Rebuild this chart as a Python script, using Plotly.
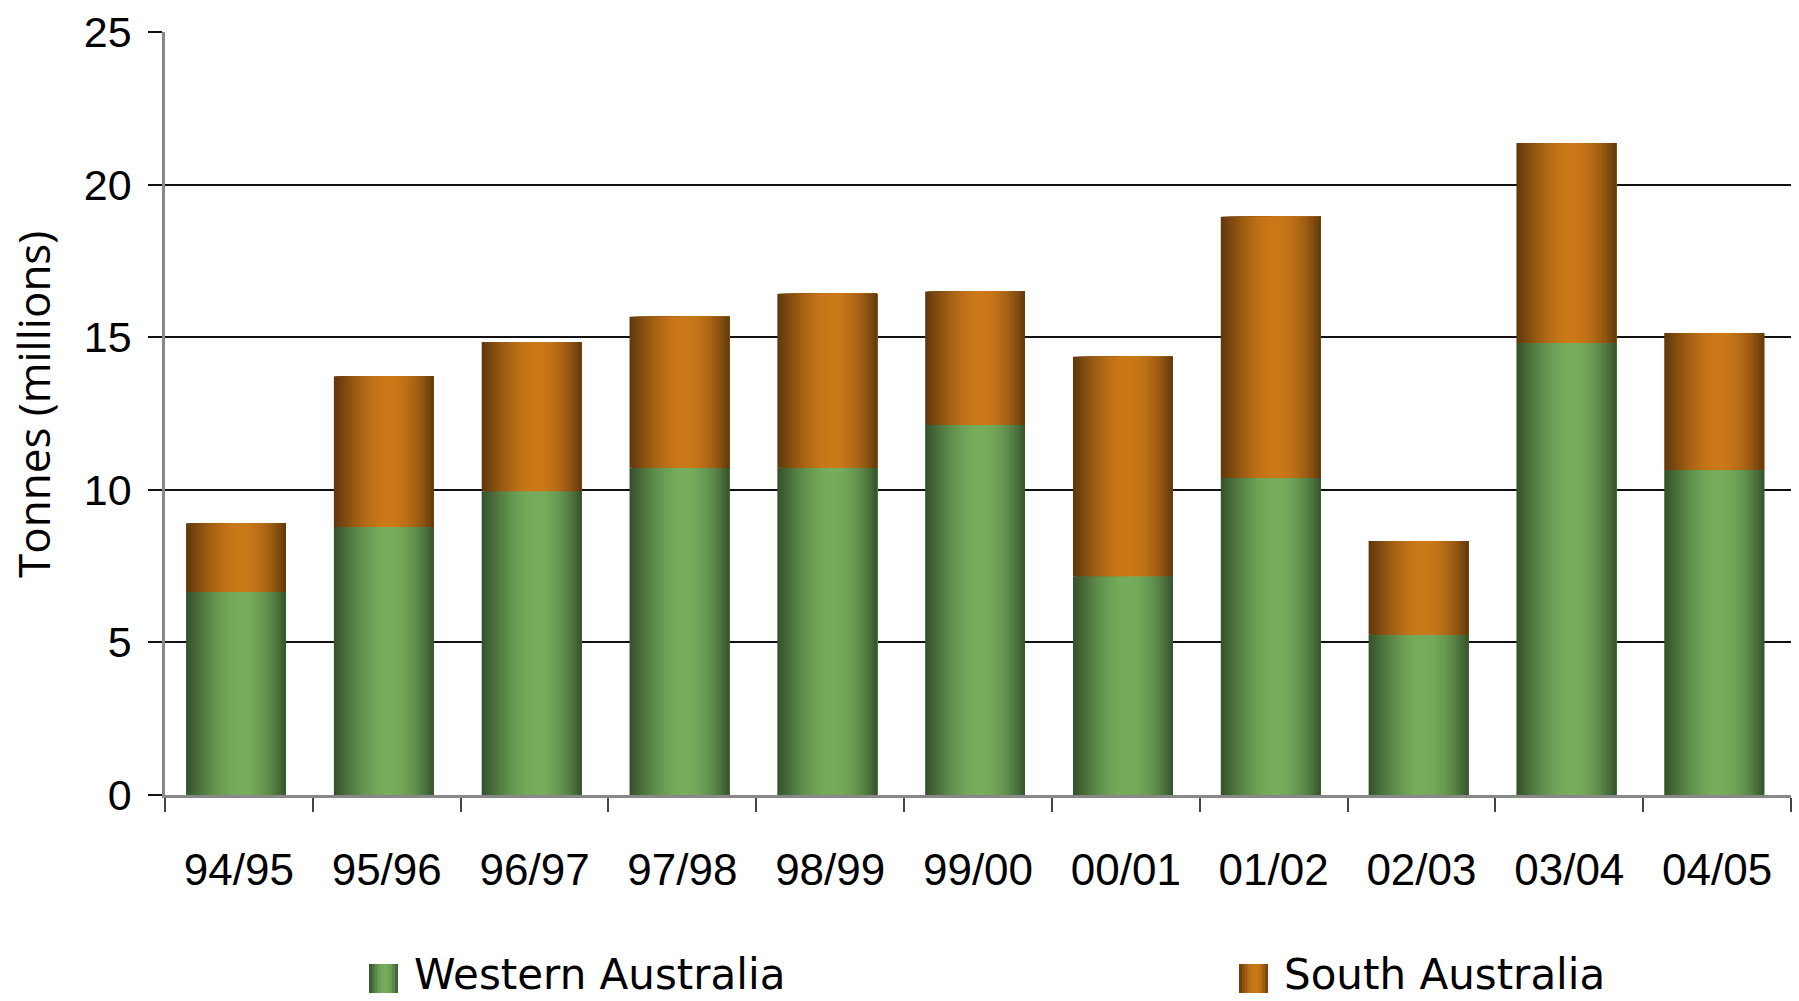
import math
import plotly.graph_objects as go

# Harvest season labels
seasons = ["94/95", "95/96", "96/97", "97/98", "98/99", "99/00",
           "00/01", "01/02", "02/03", "03/04", "04/05"]

# Tonnes (millions) per state, stacked: WA at the bottom, SA on top
western_australia = [6.65, 8.78, 9.95, 10.72, 10.72, 12.12, 7.17, 10.39, 5.25, 14.81, 10.65]
south_australia = [2.25, 4.94, 4.89, 4.95, 5.70, 4.38, 7.19, 8.56, 3.07, 6.55, 4.49]

y_ticks = [0, 5, 10, 15, 20, 25]

# Figure geometry (pixels)
W, H = 1799, 1001
M_L, M_R, M_T, M_B = 165, 8, 32, 206
PLOT_W = W - M_L - M_R
PLOT_H = H - M_T - M_B

BAR_WIDTH = 0.675     # fraction of category spacing
BAR_SHIFT = -0.02     # bars sit slightly left of the category centre
N_STRIPS = 40         # vertical slices used to shade each bar

GREEN_DARK, GREEN_LIGHT = (52, 80, 43), (118, 173, 92)
ORANGE_DARK, ORANGE_LIGHT = (94, 55, 12), (203, 120, 24)


def shade(t):
    """Cylinder-like lightness profile across a bar: dark edges, bright just right of centre."""
    tw = t ** (math.log(0.5) / math.log(0.55))
    return math.sin(math.pi * tw) ** 0.85


def mix(dark, light, f):
    r, g, b = (round(d + (l - d) * f) for d, l in zip(dark, light))
    return f"rgb({r},{g},{b})"


fig = go.Figure()

# Each slice runs from its own left edge to the bar's right edge and is
# painted over the previous one, so the shading has no seams.
strip_w = BAR_WIDTH / N_STRIPS
for k in range(N_STRIPS):
    t = (k + 0.5) / N_STRIPS
    f = shade(t)
    offset = BAR_SHIFT - BAR_WIDTH / 2 + k * strip_w
    width = BAR_WIDTH - k * strip_w
    fig.add_trace(go.Bar(
        x=seasons, y=western_australia, base=0,
        width=width, offset=offset,
        marker=dict(color=mix(GREEN_DARK, GREEN_LIGHT, f), line=dict(width=0)),
        showlegend=False, hoverinfo="skip",
    ))
    fig.add_trace(go.Bar(
        x=seasons, y=south_australia, base=western_australia,
        width=width, offset=offset,
        marker=dict(color=mix(ORANGE_DARK, ORANGE_LIGHT, f), line=dict(width=0)),
        showlegend=False, hoverinfo="skip",
    ))


def px_x(px):
    return (px - M_L) / PLOT_W


def px_y(py):
    return (H - M_B - py) / PLOT_H


shapes = []
annotations = []

# Legend: shaded swatches plus labels
legend_items = [
    ("Western Australia", GREEN_DARK, GREEN_LIGHT, 369),
    ("South Australia", ORANGE_DARK, ORANGE_LIGHT, 1239),
]
SW_W, SW_TOP, SW_BOT = 29, 964, 993
SW_STEPS = 10
for label, dark, light, x0 in legend_items:
    for k in range(SW_STEPS):
        t = (k + 0.5) / SW_STEPS
        a = x0 + k * SW_W / SW_STEPS
        b = x0 + SW_W
        shapes.append(dict(
            type="rect", xref="paper", yref="paper",
            x0=px_x(a), x1=px_x(b), y0=px_y(SW_BOT), y1=px_y(SW_TOP),
            fillcolor=mix(dark, light, shade(t)), line=dict(width=0), layer="above",
        ))
    annotations.append(dict(
        text=label, xref="paper", yref="paper",
        x=px_x(x0 + SW_W + 14), y=px_y(974), xanchor="left", yanchor="middle",
        showarrow=False, font=dict(family="DejaVu Sans", size=42, color="#000"),
    ))

# Y axis title
annotations.append(dict(
    text="Tonnes (millions)", xref="paper", yref="paper",
    x=px_x(33), y=px_y(405), xanchor="center", yanchor="middle",
    textangle=-90, showarrow=False,
    font=dict(family="Open Sans", size=44, color="#000"),
))

fig.update_layout(
    width=W, height=H,
    margin=dict(l=M_L, r=M_R, t=M_T, b=M_B, pad=0),
    paper_bgcolor="white", plot_bgcolor="white",
    barmode="overlay",
    showlegend=False,
    shapes=shapes,
    annotations=annotations,
    xaxis=dict(
        type="category", categoryorder="array", categoryarray=seasons,
        range=[-0.5, len(seasons) - 0.5],
        tickson="boundaries", ticks="outside", ticklen=14, tickwidth=1.5,
        tickcolor="#444", showline=True, linecolor="#888", linewidth=2.5,
        showgrid=False, zeroline=False,
        tickfont=dict(family="Liberation Sans", size=44, color="#000"),
        ticklabelstandoff=34,
    ),
    yaxis=dict(
        range=[0, 25], tickvals=y_ticks,
        ticks="outside", ticklen=14, tickwidth=1.5, tickcolor="#111",
        showgrid=True, gridcolor="#111", gridwidth=1.6,
        showline=True, linecolor="#888", linewidth=2.5,
        zeroline=False,
        tickfont=dict(family="Liberation Sans", size=43, color="#000"),
        ticklabelstandoff=8,
    ),
)

fig.write_html("out.html")
